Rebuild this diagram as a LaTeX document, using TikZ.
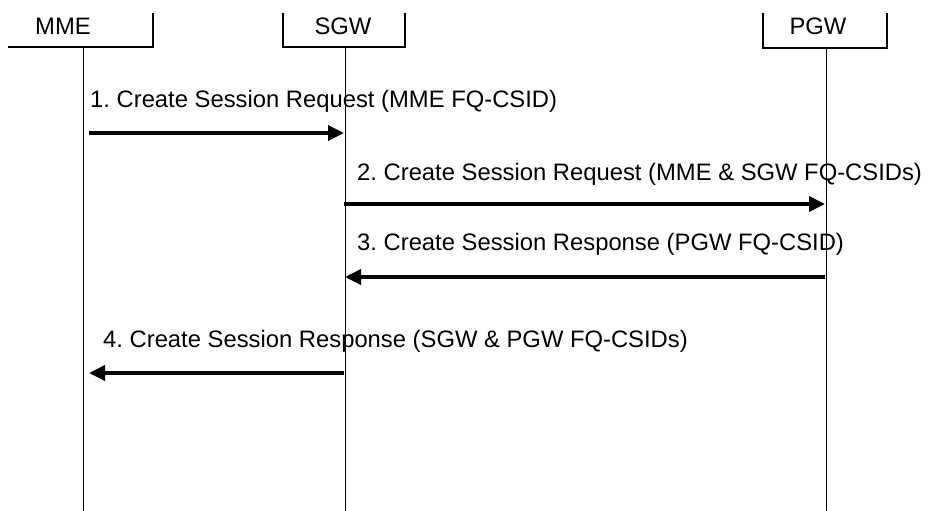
\documentclass[tikz,border=0pt]{standalone}
\usepackage{fontspec}
\setmainfont{Liberation Sans}
\usetikzlibrary{arrows.meta}
\frenchspacing
\begin{document}
\begin{tikzpicture}[x=1pt,y=-1pt,
  hdr/.style={line width=1.6pt},
  life/.style={line width=0.9pt},
  msg/.style={line width=3.6pt,-{Triangle[length=16pt,width=15pt]}},
  lbl/.style={anchor=base west,inner sep=0pt,font=\fontsize{23.8}{28}\selectfont},
  ent/.style={anchor=base,inner sep=0pt,font=\fontsize{23.8}{28}\selectfont}]
\useasboundingbox (0,0) rectangle (929,511);
% entity headers
\node[ent] (mme) at (63,35) {MME};
\node[ent] (sgw) at (343,35) {SGW};
\node[ent] (pgw) at (818,35) {PGW};
\draw[hdr] (8,47) -- (153,47) -- (153,13);
\draw[hdr] (283,13) -- (283,47) -- (405,47) -- (405,13);
\draw[hdr] (763,13) -- (763,48) -- (887,48) -- (887,13);
% lifelines
\coordinate (mmeT) at (83,47);  \coordinate (mmeB) at (83,511);
\coordinate (sgwT) at (345,47); \coordinate (sgwB) at (345,511);
\coordinate (pgwT) at (826,48); \coordinate (pgwB) at (826,511);
\draw[life] (mmeT) -- (mmeB);
\draw[life] (sgwT) -- (sgwB);
\draw[life] (pgwT) -- (pgwB);
% message end points
\coordinate (m1a) at (89,133);  \coordinate (m1b) at (344,133);
\coordinate (m2a) at (344,204); \coordinate (m2b) at (825,204);
\coordinate (m3a) at (825,277); \coordinate (m3b) at (345,277);
\coordinate (m4a) at (344,373); \coordinate (m4b) at (89,373);
\draw[msg] (m1a) -- (m1b);
\draw[msg] (m2a) -- (m2b);
\draw[msg] (m3a) -- (m3b);
\draw[msg] (m4a) -- (m4b);
% labels
\node[lbl] (l1) at (90,107) {1. Create Session Request (MME FQ-CSID)};
\node[lbl] (l2) at (357,180) {2. Create Session Request (MME \& SGW FQ-CSIDs)};
\node[lbl] (l3) at (357,250) {3. Create Session Response (PGW FQ-CSID)};
\node[lbl] (l4) at (103,347) {4. Create Session Response (SGW \& PGW FQ-CSIDs)};
\end{tikzpicture}
\end{document}
